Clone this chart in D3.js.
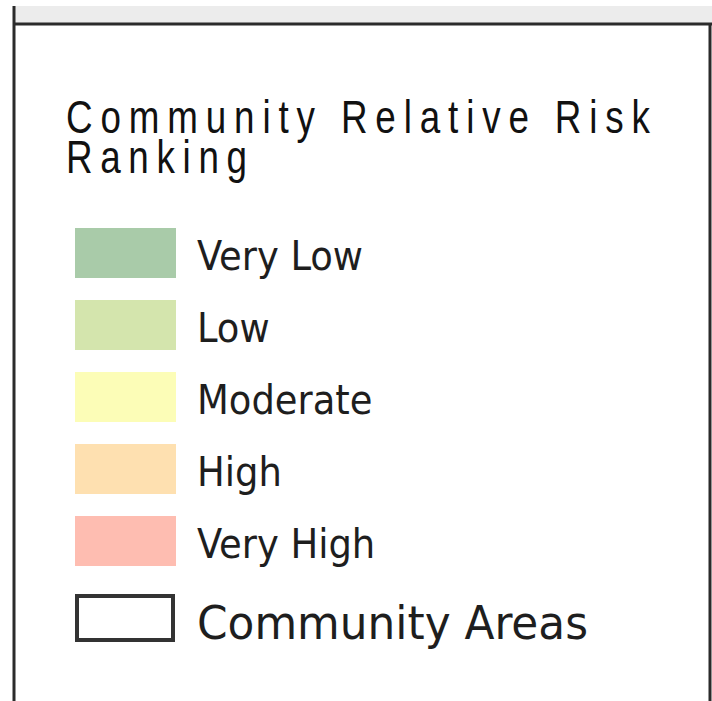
<!DOCTYPE html>
<html lang="en">
<head>
<meta charset="utf-8">
<title>Community Relative Risk Ranking</title>
<script src="https://cdn.jsdelivr.net/npm/d3@7"></script>
<style>
    html, body { margin: 0; padding: 0; background: #ffffff; }
    svg { display: block; }
</style>
</head>
<body>
<div id="container"></div>
<script>
    // legend contents
    var titleLines = ["Community Relative Risk", "Ranking"];
    var titleWidths = [584, 181];
    var categories = ["Very Low", "Low", "Moderate", "High", "Very High"];
    var colors = ["#a9cba9", "#d4e5ad", "#fcfdb7", "#fee0b0", "#febdb1"];
    var outlineLabel = "Community Areas";

    var width = 712, height = 701;
    var narrow = 0.8; // squeeze the title glyphs horizontally

    var svg = d3.select("#container")
        .append("svg")
        .attr("width", width)
        .attr("height", height);

    // strip of the map above the legend panel
    svg.append("rect")
        .attr("x", 14).attr("y", 6)
        .attr("width", width - 14).attr("height", 18)
        .style("fill", "#ececec");

    // legend panel frame
    svg.append("line")
        .attr("x1", 14).attr("x2", width).attr("y1", 24).attr("y2", 24)
        .style("stroke", "#2b2b2b").style("stroke-width", 3);
    svg.append("line")
        .attr("x1", 14).attr("x2", 14).attr("y1", 6).attr("y2", height)
        .style("stroke", "#2b2b2b").style("stroke-width", 3);
    svg.append("line")
        .attr("x1", 710).attr("x2", 710).attr("y1", 24).attr("y2", height)
        .style("stroke", "#2b2b2b").style("stroke-width", 3);

    // title
    svg.append("g")
        .attr("transform", "translate(66,0) scale(" + narrow + ",1)")
        .selectAll("text")
        .data(titleLines)
        .enter().append("text")
        .attr("x", 0)
        .attr("y", function(d, i) { return 133 + i * 40; })
        .attr("textLength", function(d, i) { return titleWidths[i] / narrow; })
        .attr("lengthAdjust", "spacing")
        .style("font-family", "'Liberation Sans', Arial, sans-serif")
        .style("font-size", "46px")
        .style("fill", "#111")
        .text(function(d) { return d; });

    // one row per class
    var y = d3.scaleBand()
        .domain(categories)
        .range([228, 566])
        .paddingInner(22 / 72)
        .paddingOuter(0);

    var rows = svg.append("g").selectAll("g")
        .data(categories)
        .enter().append("g");

    rows.append("rect")
        .attr("x", 75)
        .attr("y", function(d) { return y(d); })
        .attr("width", 101)
        .attr("height", y.bandwidth())
        .style("fill", function(d, i) { return colors[i]; });

    rows.append("text")
        .attr("x", 197)
        .attr("y", function(d) { return y(d) + y.bandwidth() / 2 + 17; })
        .style("font-family", "'DejaVu Sans Condensed', 'DejaVu Sans', sans-serif")
        .style("font-stretch", "condensed")
        .style("font-size", "41px")
        .style("fill", "#1e1e1e")
        .text(function(d) { return d; });

    // outline entry
    svg.append("rect")
        .attr("x", 77).attr("y", 596)
        .attr("width", 96).attr("height", 44)
        .style("fill", "#ffffff")
        .style("stroke", "#333333")
        .style("stroke-width", 4);

    svg.append("text")
        .attr("x", 197).attr("y", 639)
        .style("font-family", "'DejaVu Sans Condensed', 'DejaVu Sans', sans-serif")
        .style("font-stretch", "condensed")
        .style("font-size", "47px")
        .attr("textLength", 391)
        .attr("lengthAdjust", "spacingAndGlyphs")
        .style("fill", "#1e1e1e")
        .text(outlineLabel);
</script>
</body>
</html>
